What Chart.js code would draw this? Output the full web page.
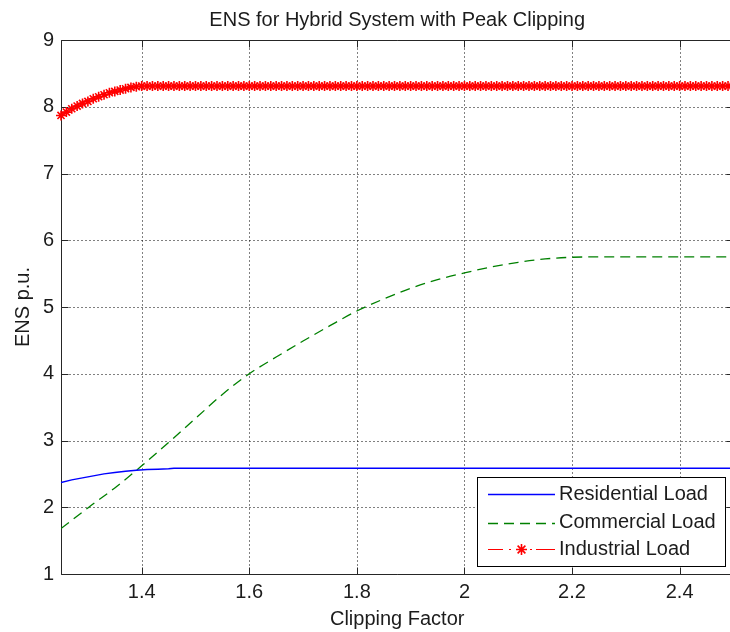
<!DOCTYPE html>
<html>
<head>
<meta charset="utf-8">
<script src="https://cdn.jsdelivr.net/npm/chart.js@4.4.1/dist/chart.umd.min.js"></script>
<style>
  html, body { margin: 0; padding: 0; background: #fff; overflow: hidden; }
  #wrap { width: 740px; height: 632px; }
</style>
</head>
<body>
<div id="wrap"><canvas id="c" width="740" height="632" style="width:740px;height:632px"></canvas></div>
<script>
// ---------- DATA ----------
const chartTitle = 'ENS for Hybrid System with Peak Clipping';
const xAxisTitle = 'Clipping Factor';
const yAxisTitle = 'ENS p.u.';
const seriesNames = ['Residential Load', 'Commercial Load', 'Industrial Load'];

const xTicks = [1.4, 1.6, 1.8, 2.0, 2.2, 2.4];
const xTickLabels = ['1.4', '1.6', '1.8', '2', '2.2', '2.4'];
const yTicks = [1, 2, 3, 4, 5, 6, 7, 8, 9];
const yTickLabels = ['1', '2', '3', '4', '5', '6', '7', '8', '9'];

// Industrial load (sampled every 0.01)
const clipFactor = [
  1.25,1.26,1.27,1.28,1.29,1.30,1.31,1.32,1.33,1.34,
  1.35,1.36,1.37,1.38,1.39,1.40,1.41,1.42,1.43,1.44,
  1.45,1.46,1.47,1.48,1.49,1.50,1.51,1.52,1.53,1.54,
  1.55,1.56,1.57,1.58,1.59,1.60,1.61,1.62,1.63,1.64,
  1.65,1.66,1.67,1.68,1.69,1.70,1.71,1.72,1.73,1.74,
  1.75,1.76,1.77,1.78,1.79,1.80,1.81,1.82,1.83,1.84,
  1.85,1.86,1.87,1.88,1.89,1.90,1.91,1.92,1.93,1.94,
  1.95,1.96,1.97,1.98,1.99,2.00,2.01,2.02,2.03,2.04,
  2.05,2.06,2.07,2.08,2.09,2.10,2.11,2.12,2.13,2.14,
  2.15,2.16,2.17,2.18,2.19,2.20,2.21,2.22,2.23,2.24,
  2.25,2.26,2.27,2.28,2.29,2.30,2.31,2.32,2.33,2.34,
  2.35,2.36,2.37,2.38,2.39,2.40,2.41,2.42,2.43,2.44,
  2.45,2.46,2.47,2.48,2.49,2.50
];
const industrialENS = [
  7.87,7.92,7.97,8.01,8.05,8.08,8.12,8.15,8.18,8.21,
  8.23,8.25,8.27,8.29,8.30,8.31,8.31,8.31,8.31,8.31,
  8.31,8.31,8.31,8.31,8.31,8.31,8.31,8.31,8.31,8.31,
  8.31,8.31,8.31,8.31,8.31,8.31,8.31,8.31,8.31,8.31,
  8.31,8.31,8.31,8.31,8.31,8.31,8.31,8.31,8.31,8.31,
  8.31,8.31,8.31,8.31,8.31,8.31,8.31,8.31,8.31,8.31,
  8.31,8.31,8.31,8.31,8.31,8.31,8.31,8.31,8.31,8.31,
  8.31,8.31,8.31,8.31,8.31,8.31,8.31,8.31,8.31,8.31,
  8.31,8.31,8.31,8.31,8.31,8.31,8.31,8.31,8.31,8.31,
  8.31,8.31,8.31,8.31,8.31,8.31,8.31,8.31,8.31,8.31,
  8.31,8.31,8.31,8.31,8.31,8.31,8.31,8.31,8.31,8.31,
  8.31,8.31,8.31,8.31,8.31,8.31,8.31,8.31,8.31,8.31,
  8.31,8.31,8.31,8.31,8.31,8.31
];

// Residential load
const residentialX   = [1.25, 1.27, 1.29, 1.31, 1.33, 1.35, 1.37, 1.39, 1.41, 1.43, 1.45, 1.46, 2.50];
const residentialENS = [2.37, 2.41, 2.44, 2.47, 2.50, 2.52, 2.54, 2.555, 2.565, 2.57, 2.575, 2.585, 2.585];

// Commercial load
const commercialX   = [1.25, 1.30, 1.35, 1.40, 1.45, 1.50, 1.55, 1.60, 1.65, 1.70, 1.75, 1.80,
                       1.85, 1.90, 1.95, 2.00, 2.05, 2.10, 2.15, 2.20, 2.25, 2.50];
const commercialENS = [1.68, 1.99, 2.29, 2.62, 2.97, 3.33, 3.69, 4.00, 4.25, 4.49, 4.72, 4.94,
                       5.12, 5.28, 5.41, 5.51, 5.60, 5.67, 5.72, 5.745, 5.75, 5.75];

// ---------- STYLE ----------
const FONT = "'Liberation Sans', Arial, Helvetica, sans-serif";
const TXT = '#1c1c1c';

const toPts = (xs, ys) => xs.map((x, i) => ({ x: x, y: ys[i] }));

const axesPlugin = {
  id: 'matlabAxes',
  beforeDatasetsDraw(chart) {
    const { ctx, chartArea: a, scales } = chart;
    const sx = scales.x, sy = scales.y;
    const L = Math.round(a.left) + 0.5, R = Math.round(a.right) + 0.5;
    const T = Math.round(a.top) + 0.5, B = Math.round(a.bottom) + 0.5;
    ctx.save();
    ctx.lineWidth = 1;
    ctx.strokeStyle = '#000';
    ctx.setLineDash([1, 3]);
    ctx.beginPath();
    xTicks.forEach(v => {
      const px = Math.round(sx.getPixelForValue(v)) + 0.5;
      ctx.moveTo(px, T); ctx.lineTo(px, B);
    });
    yTicks.forEach(v => {
      const py = Math.round(sy.getPixelForValue(v)) + 0.5;
      ctx.moveTo(L, py); ctx.lineTo(R, py);
    });
    ctx.stroke();
    ctx.setLineDash([]);
    ctx.strokeStyle = '#262626';
    ctx.beginPath();
    ctx.moveTo(L, T); ctx.lineTo(R, T); ctx.lineTo(R, B); ctx.lineTo(L, B); ctx.closePath();
    const tl = 7;
    xTicks.forEach(v => {
      const px = Math.round(sx.getPixelForValue(v)) + 0.5;
      ctx.moveTo(px, B); ctx.lineTo(px, B - tl);
      ctx.moveTo(px, T); ctx.lineTo(px, T + tl);
    });
    yTicks.forEach(v => {
      const py = Math.round(sy.getPixelForValue(v)) + 0.5;
      ctx.moveTo(L, py); ctx.lineTo(L + tl, py);
      ctx.moveTo(R, py); ctx.lineTo(R - tl, py);
    });
    ctx.stroke();
    ctx.restore();
  }
};

const legendPlugin = {
  id: 'matlabLegend',
  afterDatasetsDraw(chart) {
    const { ctx, chartArea: a } = chart;
    const w = 248, h = 89;
    const right = Math.round(a.right - 8.5), bottom = Math.round(a.bottom - 8);
    const left = right - w, top = bottom - h;
    ctx.save();
    ctx.fillStyle = '#fff';
    ctx.fillRect(left, top, w, h);
    ctx.strokeStyle = '#000';
    ctx.lineWidth = 1;
    ctx.setLineDash([]);
    ctx.strokeRect(left + 0.5, top + 0.5, w, h);
    const rows = [top + 17.3, top + 45.7, top + 72.3];
    const x0 = left + 11, x1 = left + 78;
    chart.data.datasets.forEach((ds, i) => {
      const yy = Math.round(rows[i]) + 0.5;
      ctx.strokeStyle = ds.borderColor;
      ctx.lineWidth = ds.borderWidth;
      if (i === 2) {
        const mid = (x0 + x1) / 2;
        ctx.setLineDash([]);
        ctx.beginPath();
        ctx.moveTo(x0, yy); ctx.lineTo(x0 + 15, yy);
        ctx.moveTo(x0 + 21, yy); ctx.lineTo(x0 + 23, yy);
        ctx.moveTo(x1 - 25, yy); ctx.lineTo(x1 - 23, yy);
        ctx.moveTo(x1 - 19, yy); ctx.lineTo(x1, yy);
        ctx.stroke();
        ctx.strokeStyle = ds.pointBorderColor;
        ctx.fillStyle = ds.pointBorderColor;
        ctx.lineWidth = ds.pointBorderWidth;
        Chart.helpers.drawPoint(ctx, {
          pointStyle: 'star', radius: ds.pointRadius + 0.5, borderWidth: ds.pointBorderWidth, rotation: 0
        }, mid, yy);
      } else {
        ctx.setLineDash(ds.borderDash || []);
        ctx.beginPath();
        ctx.moveTo(x0, yy); ctx.lineTo(x1, yy);
        ctx.stroke();
      }
      ctx.setLineDash([]);
      ctx.fillStyle = TXT;
      ctx.font = '20px ' + FONT;
      ctx.textBaseline = 'middle';
      ctx.textAlign = 'left';
      ctx.fillText(ds.label, left + 82, rows[i]);
    });
    ctx.restore();
  }
};

new Chart(document.getElementById('c'), {
  type: 'line',
  data: {
    datasets: [
      {
        label: seriesNames[0],
        data: toPts(residentialX, residentialENS),
        borderColor: 'rgb(0,0,255)',
        borderWidth: 1.5,
        pointRadius: 0,
        fill: false,
        tension: 0
      },
      {
        label: seriesNames[1],
        data: toPts(commercialX, commercialENS),
        borderColor: 'rgb(0,128,0)',
        borderWidth: 1.3,
        borderDash: [10, 6],
        pointRadius: 0,
        fill: false,
        cubicInterpolationMode: 'monotone'
      },
      {
        label: seriesNames[2],
        data: toPts(clipFactor, industrialENS),
        borderColor: 'rgb(255,0,0)',
        borderWidth: 1,
        borderDash: [8, 4, 2, 4],
        pointStyle: 'star',
        pointRadius: 5,
        pointBorderWidth: 1.6,
        pointBorderColor: 'rgb(255,0,0)',
        pointBackgroundColor: 'rgb(255,0,0)',
        fill: false,
        tension: 0,
        clip: false
      }
    ]
  },
  options: {
    responsive: false,
    maintainAspectRatio: false,
    devicePixelRatio: 1,
    animation: false,
    events: [],
    layout: { padding: { left: 0, top: 0, right: 4.5, bottom: 0 } },
    plugins: {
      legend: { display: false },
      tooltip: { enabled: false },
      title: {
        display: true,
        text: chartTitle,
        color: TXT,
        fullSize: false,
        font: { family: FONT, size: 20, weight: 'normal', lineHeight: 1.2 },
        padding: { top: 8, bottom: 8 }
      }
    },
    scales: {
      x: {
        type: 'linear',
        min: 1.25,
        max: 2.5,
        grid: { display: false, drawTicks: false },
        border: { display: false },
        afterBuildTicks: s => { s.ticks = xTicks.map(v => ({ value: v })); },
        afterFit: s => { s.height = 58; },
        ticks: {
          color: TXT,
          padding: 6,
          maxRotation: 0,
          autoSkip: false,
          font: { family: FONT, size: 20, lineHeight: 1.2 },
          callback: (v, i) => xTickLabels[i]
        },
        title: {
          display: true,
          text: xAxisTitle,
          color: TXT,
          font: { family: FONT, size: 20, lineHeight: 1.2 },
          padding: { top: 0, bottom: 1 }
        }
      },
      y: {
        type: 'linear',
        min: 1,
        max: 9,
        grid: { display: false, drawTicks: false },
        border: { display: false },
        afterBuildTicks: s => { s.ticks = yTicks.map(v => ({ value: v })); },
        afterFit: s => { s.width = 61; },
        ticks: {
          color: TXT,
          padding: 7,
          autoSkip: false,
          font: { family: FONT, size: 20, lineHeight: 1.2 },
          callback: (v, i) => yTickLabels[i]
        },
        title: {
          display: true,
          text: yAxisTitle,
          color: TXT,
          font: { family: FONT, size: 20, lineHeight: 1.2 },
          padding: { top: 11, bottom: 0 }
        }
      }
    }
  },
  plugins: [axesPlugin, legendPlugin]
});
</script>
</body>
</html>
